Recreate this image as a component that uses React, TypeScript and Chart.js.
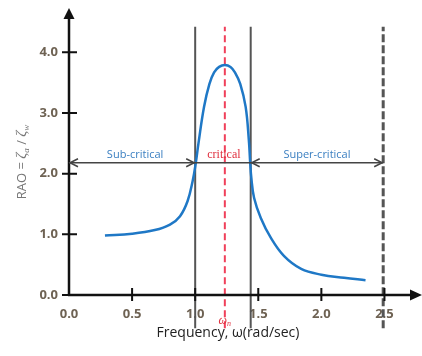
import { useEffect, useRef } from "react";
import { Chart, registerables } from "chart.js";

Chart.register(...registerables);

// ---- data ----
const frequency = [0.285, 0.5, 0.68, 0.8, 0.88, 0.94, 0.98, 1.005, 1.026, 1.07, 1.113, 1.15, 1.19, 1.235, 1.28, 1.315, 1.357, 1.4, 1.425, 1.436, 1.445, 1.467, 1.52, 1.6, 1.705, 1.84, 2.0, 2.18, 2.35];
const rao = [0.98, 1.01, 1.07, 1.16, 1.3, 1.55, 1.88, 2.18, 2.5, 3.1, 3.48, 3.67, 3.76, 3.79, 3.76, 3.67, 3.48, 3.1, 2.56, 2.18, 1.93, 1.6, 1.27, 0.94, 0.64, 0.43, 0.335, 0.285, 0.245];
const xTickValues = [0, 0.5, 1, 1.5, 2, 2.5];
const yTickValues = [0, 1, 2, 3, 4];
const boundaryLow = 1.0;
const boundaryHigh = 1.44;
const naturalFreq = 1.235;
const cutoffFreq = 2.49;
const regionLevel = 2.18;
const lineSpan = [-0.55, 4.42];
const regionLabels = ["Sub-critical", "critical", "Super-critical"];
const xTitle = "Frequency, ω(rad/sec)";
const naturalLabel = ["ω", "n"];
const yTitleParts = ["RAO = ", "ζ", "a", " / ", "ζ", "w"];

const X_MAX = 2.75;
const Y_MAX = 4.5;

const vline = (x: number, color: string, width: number, dash: number[]) => ({
  data: [
    { x, y: lineSpan[0] },
    { x, y: lineSpan[1] },
  ],
  borderColor: color,
  borderWidth: width,
  borderDash: dash,
  pointRadius: 0,
  clip: false as const,
  tension: 0,
});

const overlay = {
  id: "overlay",
  afterDraw(chart: any) {
    const { ctx, scales } = chart;
    const xs = scales.x;
    const ys = scales.y;
    const x0 = xs.getPixelForValue(0);
    const y0 = ys.getPixelForValue(0);
    ctx.save();

    // axes
    ctx.strokeStyle = "#111";
    ctx.fillStyle = "#111";
    ctx.lineWidth = 2.5;
    ctx.beginPath();
    ctx.moveTo(x0, y0 + 1);
    ctx.lineTo(x0, ys.top - 6);
    ctx.moveTo(x0 - 1, y0);
    ctx.lineTo(xs.right - 2, y0);
    ctx.stroke();
    // arrow heads
    ctx.beginPath();
    ctx.moveTo(x0, ys.top - 14);
    ctx.lineTo(x0 - 5.5, ys.top - 3);
    ctx.lineTo(x0 + 5.5, ys.top - 3);
    ctx.closePath();
    ctx.fill();
    ctx.beginPath();
    ctx.moveTo(xs.right + 6, y0);
    ctx.lineTo(xs.right - 6, y0 - 5.5);
    ctx.lineTo(xs.right - 6, y0 + 5.5);
    ctx.closePath();
    ctx.fill();

    // tick marks crossing the axes
    ctx.lineWidth = 2;
    ctx.beginPath();
    yTickValues.forEach((v) => {
      const py = ys.getPixelForValue(v);
      ctx.moveTo(x0 - 7, py);
      ctx.lineTo(x0 + 8, py);
    });
    xTickValues.forEach((v) => {
      if (v === 0) return;
      const px = xs.getPixelForValue(v);
      ctx.moveTo(px, y0 - 7);
      ctx.lineTo(px, y0 + 6);
    });
    ctx.stroke();

    // region double arrows
    const ay = ys.getPixelForValue(regionLevel);
    const xa = x0;
    const xb = xs.getPixelForValue(boundaryLow);
    const xc = xs.getPixelForValue(boundaryHigh);
    const xd = xs.getPixelForValue(cutoffFreq);
    ctx.strokeStyle = "#444";
    ctx.lineWidth = 1.5;
    ctx.beginPath();
    ctx.moveTo(xa, ay);
    ctx.lineTo(xd, ay);
    ctx.stroke();
    const head = (px: number, dir: number) => {
      ctx.beginPath();
      ctx.moveTo(px - dir * 8, ay - 4);
      ctx.lineTo(px, ay);
      ctx.lineTo(px - dir * 8, ay + 4);
      ctx.stroke();
    };
    head(xa + 1, -1);
    head(xb - 1, 1);
    head(xc + 1, -1);
    head(xd - 1, 1);

    // region labels
    ctx.textAlign = "center";
    ctx.textBaseline = "alphabetic";
    ctx.fillStyle = "#3a7fc1";
    ctx.font = "11px 'Open Sans'";
    ctx.fillText(regionLabels[0], (xa + xb) / 2 + 3, ay - 5);
    ctx.fillText(regionLabels[2], (xc + xd) / 2, ay - 5);
    ctx.fillStyle = "#e0303f";
    ctx.font = "12px 'Liberation Serif'";
    ctx.fillText(regionLabels[1], (xb + xc) / 2 + 1, ay - 5);

    // natural frequency label
    const nx = xs.getPixelForValue(naturalFreq);
    ctx.font = "italic 12px 'Liberation Serif'";
    ctx.textAlign = "left";
    const ww = ctx.measureText(naturalLabel[0]).width;
    ctx.font = "italic 8px 'Liberation Serif'";
    const nw = ctx.measureText(naturalLabel[1]).width;
    const sx = nx - (ww + nw) / 2;
    ctx.font = "italic 12px 'Liberation Serif'";
    ctx.fillText(naturalLabel[0], sx, y0 + 29);
    ctx.font = "italic 8px 'Liberation Serif'";
    ctx.fillText(naturalLabel[1], sx + ww, y0 + 31);

    // x title
    ctx.fillStyle = "#222";
    ctx.font = "14px 'Open Sans'";
    ctx.textAlign = "center";
    ctx.fillText(xTitle, 228, y0 + 42);

    // y title
    ctx.translate(21, 162);
    ctx.rotate(-Math.PI / 2);
    ctx.fillStyle = "#777";
    const fonts = ["13px 'Open Sans'", "italic 15px 'Liberation Serif'", "italic 9px 'Liberation Serif'", "13px 'Open Sans'", "italic 15px 'Liberation Serif'", "italic 9px 'Liberation Serif'"];
    const offs = [0, 0, 3, 0, 0, 3];
    let total = 0;
    const widths = yTitleParts.map((t, i) => {
      ctx.font = fonts[i];
      const w = ctx.measureText(t).width;
      total += w;
      return w;
    });
    let cx = -total / 2;
    ctx.textAlign = "left";
    yTitleParts.forEach((t, i) => {
      ctx.font = fonts[i];
      ctx.fillText(t, cx, 5 + offs[i]);
      cx += widths[i];
    });

    ctx.restore();
  },
};

export default function App() {
  const ref = useRef<HTMLCanvasElement>(null);
  useEffect(() => {
    if (!ref.current) return;
    const tickFont = { family: "'Open Sans'", size: 13, weight: "bold" as const };
    const chart = new Chart(ref.current, {
      type: "line",
      data: {
        datasets: [
          {
            data: frequency.map((f, i) => ({ x: f, y: rao[i] })),
            borderColor: "#1f78c6",
            borderWidth: 2.5,
            pointRadius: 0,
            tension: 0.4,
          },
          vline(boundaryLow, "#555", 2, []),
          vline(boundaryHigh, "#555", 2, []),
          vline(naturalFreq, "#f0405a", 2, [7, 4]),
          vline(cutoffFreq, "#555", 3, [8, 3]),
        ],
      },
      plugins: [overlay],
      options: {
        animation: false,
        responsive: false,
        maintainAspectRatio: false,
        events: [],
        layout: { padding: { left: 0, top: 22, right: 6, bottom: 0 } },
        plugins: { legend: { display: false }, tooltip: { enabled: false } },
        scales: {
          x: {
            type: "linear",
            min: 0,
            max: X_MAX,
            grid: { display: false, drawTicks: false },
            border: { display: false },
            afterFit: (s: any) => {
              s.height = 61;
            },
            afterBuildTicks: (s: any) => {
              s.ticks = xTickValues.map((v) => ({ value: v }));
            },
            ticks: {
              padding: 11,
              color: "#6e6253",
              font: tickFont,
              callback: (v: any) => Number(v).toFixed(1),
            },
          },
          y: {
            type: "linear",
            min: 0,
            max: Y_MAX,
            grid: { display: false, drawTicks: false },
            border: { display: false },
            afterFit: (s: any) => {
              s.width = 69;
            },
            afterBuildTicks: (s: any) => {
              s.ticks = yTickValues.map((v) => ({ value: v }));
            },
            ticks: {
              padding: 11,
              color: "#6e6253",
              font: tickFont,
              callback: (v: any) => Number(v).toFixed(1),
            },
          },
        },
      },
    });
    return () => chart.destroy();
  }, []);
  return (
    <div style={{ position: "fixed", left: 0, top: 0, width: 422, height: 356, background: "#fff" }}>
      <canvas ref={ref} width={422} height={356} style={{ display: "block", width: 422, height: 356 }} />
    </div>
  );
}
